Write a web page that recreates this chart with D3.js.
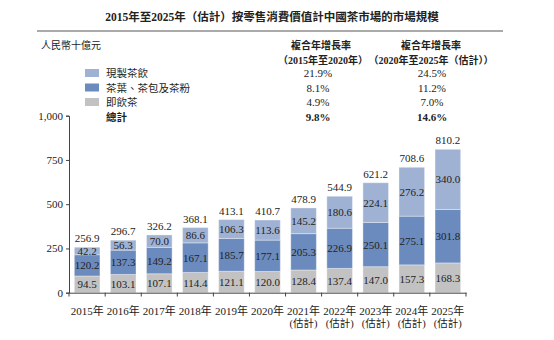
<!DOCTYPE html>
<html lang="zh-Hant">
<head>
    <meta charset="utf-8" />
    <title>中國茶市場的市場規模</title>
    <script src="https://d3js.org/d3.v7.min.js"></script>
    <style>
        body { margin: 0; background: #fff; }
        text { fill: #222; }
    </style>
</head>
<body>
<script>
    var w = 554;
    var h = 340;

    // categories
    var years = ["2015年","2016年","2017年","2018年","2019年","2020年","2021年","2022年","2023年","2024年","2025年"];
    var estimated = [false,false,false,false,false,false,true,true,true,true,true];

    // series values (RMB billion)
    var rtdTea = [94.5,103.1,107.1,114.4,121.1,120.0,128.4,137.4,147.0,157.3,168.3];
    var leafTea = [120.2,137.3,149.2,167.1,185.7,177.1,205.3,226.9,250.1,275.1,301.8];
    var freshTea = [42.2,56.3,70.0,86.6,106.3,113.6,145.2,180.6,224.1,276.2,340.0];
    var totals = [256.9,296.7,326.2,368.1,413.1,410.7,478.9,544.9,621.2,708.6,810.2];

    // legend / CAGR table
    var seriesNames = ["現製茶飲","茶葉、茶包及茶粉","即飲茶"];
    var seriesColors = ["#9fb2d3","#6b8bbe","#c2c2c2"];
    var cagr1520 = ["21.9%","8.1%","4.9%","9.8%"];
    var cagr2025 = ["24.5%","11.2%","7.0%","14.6%"];
    var yTicks = [0,250,500,750,1000];

    var serif = "'Liberation Serif','Noto Sans CJK TC',serif";
    var cjk = "'Liberation Serif','Noto Sans CJK TC',sans-serif";

    var svg = d3.select("body")
        .append("svg")
        .attr("width", w)
        .attr("height", h);

    // title
    svg.append("text")
        .attr("x", 272).attr("y", 21)
        .attr("text-anchor", "middle")
        .attr("font-family", cjk)
        .attr("font-size", "11.5px")
        .attr("font-weight", "bold")
        .text("2015年至2025年（估計）按零售消費價值計中國茶市場的市場規模");

    svg.append("line")
        .attr("x1", 37).attr("x2", 503)
        .attr("y1", 31).attr("y2", 31)
        .attr("stroke", "#aaa")
        .attr("stroke-width", 2);

    svg.append("text")
        .attr("x", 41).attr("y", 49)
        .attr("font-family", cjk)
        .attr("font-size", "10px")
        .text("人民幣十億元");

    // CAGR headers
    var colX = [321, 431];
    svg.selectAll("text.hd1")
        .data(colX)
        .enter()
        .append("text")
        .attr("class", "hd1")
        .attr("x", function(d) { return d; })
        .attr("y", 49)
        .attr("text-anchor", "middle")
        .attr("font-family", cjk)
        .attr("font-size", "10px")
        .attr("font-weight", "bold")
        .text("複合年增長率");

    svg.selectAll("text.hd2")
        .data(["（2015年至2020年）","（2020年至2025年（估計））"])
        .enter()
        .append("text")
        .attr("class", "hd2")
        .attr("x", function(d, i) { return i == 0 ? 323 : 431; })
        .attr("y", 64)
        .attr("text-anchor", "middle")
        .attr("font-family", cjk)
        .attr("font-size", "10px")
        .attr("font-weight", "bold")
        .text(function(d) { return d; });

    var rowY = [77, 91.5, 106, 120.5];

    // legend squares + names
    svg.selectAll("rect.leg")
        .data(seriesColors)
        .enter()
        .append("rect")
        .attr("class", "leg")
        .attr("x", 85)
        .attr("y", function(d, i) { return rowY[i] - 8; })
        .attr("width", 14)
        .attr("height", 8)
        .attr("fill", function(d) { return d; });

    svg.selectAll("text.legname")
        .data(seriesNames.concat(["總計"]))
        .enter()
        .append("text")
        .attr("class", "legname")
        .attr("x", 106)
        .attr("y", function(d, i) { return rowY[i]; })
        .attr("font-family", cjk)
        .attr("font-size", "10.5px")
        .attr("font-weight", function(d, i) { return i == 3 ? "bold" : "normal"; })
        .text(function(d) { return d; });

    [cagr1520, cagr2025].forEach(function(col, c) {
        svg.selectAll("text.cagr" + c)
            .data(col)
            .enter()
            .append("text")
            .attr("class", "cagr" + c)
            .attr("x", c == 0 ? 318 : 432)
            .attr("y", function(d, i) { return rowY[i]; })
            .attr("text-anchor", "middle")
            .attr("font-family", serif)
            .attr("font-size", "11px")
            .attr("font-weight", function(d, i) { return i == 3 ? "bold" : "normal"; })
            .text(function(d) { return d; });
    });

    // scales
    var xScale = d3.scaleBand()
        .domain(years)
        .range([69, 466])
        .paddingInner(0.29)
        .paddingOuter(0.148);

    var yScale = d3.scaleLinear()
        .domain([0, 1000])
        .range([292.7, 115.7]);

    // y axis
    var yAxis = d3.axisLeft(yScale)
        .tickValues(yTicks)
        .tickSize(3)
        .tickFormat(d3.format(","));
    var gy = svg.append("g")
        .attr("transform", "translate(69,0)")
        .call(yAxis);
    gy.select(".domain").attr("stroke", "#444");
    gy.selectAll(".tick line").attr("stroke", "#444");
    gy.selectAll(".tick text")
        .attr("font-family", serif)
        .attr("font-size", "11px")
        .attr("fill", "#222")
        .attr("x", -6);

    // stacked bars
    var rows = years.map(function(y, i) {
        return { year: y, rtd: rtdTea[i], leaf: leafTea[i], fresh: freshTea[i] };
    });
    var keys = ["rtd", "leaf", "fresh"];
    var keyColor = { rtd: seriesColors[2], leaf: seriesColors[1], fresh: seriesColors[0] };
    var stacked = d3.stack().keys(keys)(rows);

    var layers = svg.selectAll("g.layer")
        .data(stacked)
        .enter()
        .append("g")
        .attr("class", "layer")
        .attr("fill", function(d) { return keyColor[d.key]; });

    layers.selectAll("rect")
        .data(function(d) { return d; })
        .enter()
        .append("rect")
        .attr("x", function(d) { return xScale(d.data.year); })
        .attr("y", function(d) { return yScale(d[1]); })
        .attr("width", xScale.bandwidth())
        .attr("height", function(d) { return yScale(d[0]) - yScale(d[1]); })
        .attr("stroke", "rgba(255,255,255,0.35)")
        .attr("stroke-width", 1);

    layers.selectAll("text")
        .data(function(d) { return d; })
        .enter()
        .append("text")
        .attr("x", function(d) { return xScale(d.data.year) + xScale.bandwidth() / 2; })
        .attr("y", function(d) { return (yScale(d[0]) + yScale(d[1])) / 2 + 4; })
        .attr("text-anchor", "middle")
        .attr("font-family", serif)
        .attr("font-size", "11px")
        .text(function(d) { return (d[1] - d[0]).toFixed(1); });

    // totals
    svg.selectAll("text.total")
        .data(totals)
        .enter()
        .append("text")
        .attr("class", "total")
        .attr("x", function(d, i) { return xScale(years[i]) + xScale.bandwidth() / 2; })
        .attr("y", function(d) { return yScale(d) - 5; })
        .attr("text-anchor", "middle")
        .attr("font-family", serif)
        .attr("font-size", "11px")
        .text(function(d) { return d.toFixed(1); });

    // x axis: labels at band centres, ticks at band boundaries
    var xAxis = d3.axisBottom(xScale).tickSize(0).tickFormat("");
    var gx = svg.append("g")
        .attr("transform", "translate(0,292.7)")
        .call(xAxis);
    gx.select(".domain").attr("stroke", "#444");

    var step = xScale.step();
    var bounds = [69].concat(years.map(function(y) {
        return xScale(y) + xScale.bandwidth() + (step - xScale.bandwidth()) / 2;
    }));
    bounds[bounds.length - 1] = 466;
    svg.selectAll("line.xtick")
        .data(bounds)
        .enter()
        .append("line")
        .attr("class", "xtick")
        .attr("x1", function(d) { return d; })
        .attr("x2", function(d) { return d; })
        .attr("y1", 292.7)
        .attr("y2", 296.5)
        .attr("stroke", "#444");

    var xl = svg.selectAll("text.xlab")
        .data(years)
        .enter()
        .append("text")
        .attr("class", "xlab")
        .attr("x", function(d) { return xScale(d) + xScale.bandwidth() / 2; })
        .attr("y", 315)
        .attr("text-anchor", "middle")
        .attr("font-family", serif)
        .attr("font-size", "11px");
    xl.append("tspan")
        .text(function(d) { return d; });
    xl.filter(function(d, i) { return estimated[i]; })
        .append("tspan")
        .attr("x", function(d) { return xScale(d) + xScale.bandwidth() / 2; })
        .attr("dy", 12)
        .attr("font-size", "10.5px")
        .text("(估計)");
</script>
</body>
</html>
